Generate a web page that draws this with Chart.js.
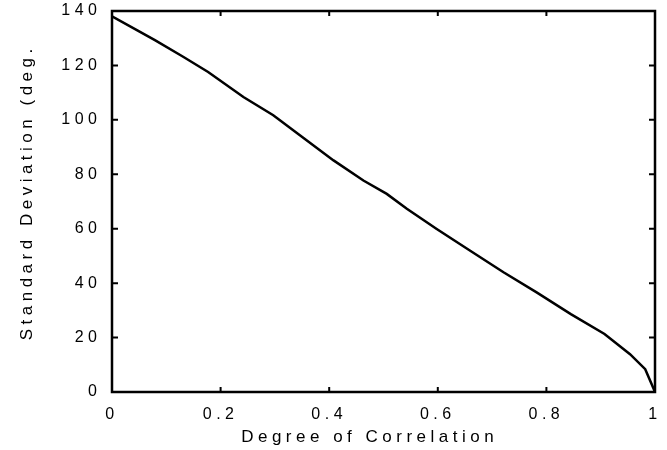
<!DOCTYPE html>
<html>
<head>
<meta charset="utf-8">
<script src="https://cdn.jsdelivr.net/npm/chart.js@4"></script>
<style>
    body { margin: 0; background: #fff; }
    #sd-chart { display: block; }
</style>
</head>
<body>
<canvas id="sd-chart" width="667" height="450"></canvas>
<script>
// values
const correlation = [0, 0.04, 0.079, 0.131, 0.177, 0.242, 0.297, 0.346, 0.408, 0.463, 0.506,
    0.543, 0.598, 0.659, 0.721, 0.782, 0.845, 0.907, 0.954, 0.982, 1.0];
const stdDev = [138, 133.6, 129.3, 123.2, 117.6, 108.4, 101.7, 94.3, 85.1, 77.7, 72.8,
    67.3, 59.9, 52.0, 44.0, 36.6, 28.6, 21.3, 13.9, 8.4, 0];
const xTickLabels = ['0', '0.2', '0.4', '0.6', '0.8', '1'];
const yTickLabels = ['0', '20', '40', '60', '80', '100', '120', '140'];
// spaces nudge the titles off-centre like in the original
const xTitle = 'Degree of Correlation   ';
const yTitle = '  Standard Deviation (deg.';

const fontFamily = "'Liberation Sans', Arial, sans-serif";

// frame + inward tick marks, drawn from the chart's own scales
const framePlugin = {
    id: 'frame',
    beforeDraw(chart) {
        chart.ctx.letterSpacing = '4.5px';
    },
    afterDraw(chart) {
        const ctx = chart.ctx;
        const a = chart.chartArea;
        const xs = chart.scales.x;
        const ys = chart.scales.y;
        ctx.save();
        ctx.letterSpacing = '0px';
        ctx.strokeStyle = '#000';
        ctx.lineWidth = 2.5;
        ctx.strokeRect(a.left, a.top, a.right - a.left, a.bottom - a.top);
        ctx.lineWidth = 2;
        ctx.beginPath();
        ys.ticks.forEach(t => {
            if (t.value <= ys.min || t.value >= ys.max) return;
            const py = ys.getPixelForValue(t.value);
            ctx.moveTo(a.left, py); ctx.lineTo(a.left + 6, py);
            ctx.moveTo(a.right, py); ctx.lineTo(a.right - 6, py);
        });
        xs.ticks.forEach(t => {
            if (t.value <= xs.min || t.value >= xs.max) return;
            const px = xs.getPixelForValue(t.value);
            ctx.moveTo(px, a.top); ctx.lineTo(px, a.top + 5);
            ctx.moveTo(px, a.bottom); ctx.lineTo(px, a.bottom - 5);
        });
        ctx.stroke();
        ctx.restore();
    }
};

const ctx = document.getElementById('sd-chart').getContext('2d');
new Chart(ctx, {
    type: 'scatter',
    data: {
        datasets: [{
            data: correlation.map((c, i) => ({ x: c, y: stdDev[i] })),
            showLine: true,
            borderColor: '#000',
            borderWidth: 2.5,
            pointRadius: 0,
            tension: 0,
            fill: false
        }]
    },
    options: {
        responsive: false,
        animation: false,
        events: [],
        layout: { padding: { top: 11, right: 12, left: 0, bottom: 0 } },
        plugins: {
            legend: { display: false },
            tooltip: { enabled: false }
        },
        scales: {
            x: {
                type: 'linear',
                min: 0,
                max: 1,
                afterFit: s => { s.height = 58; s.paddingLeft = 0; s.paddingRight = 0; },
                grid: { display: false, drawTicks: false },
                border: { display: false },
                ticks: {
                    stepSize: 0.2,
                    padding: 13,
                    maxRotation: 0,
                    color: '#000',
                    font: { family: fontFamily, size: 16 },
                    callback: (v, i) => xTickLabels[i]
                },
                title: {
                    display: true,
                    text: xTitle,
                    color: '#000',
                    font: { family: fontFamily, size: 17 },
                    padding: { top: 0, bottom: 2 }
                }
            },
            y: {
                min: 0,
                max: 140,
                afterFit: s => { s.width = 112; s.paddingTop = 0; s.paddingBottom = 0; },
                grid: { display: false, drawTicks: false },
                border: { display: false },
                ticks: {
                    stepSize: 20,
                    padding: 10.5,
                    color: '#000',
                    font: { family: fontFamily, size: 16 },
                    callback: (v, i) => yTickLabels[i]
                },
                title: {
                    display: true,
                    text: yTitle,
                    color: '#000',
                    font: { family: fontFamily, size: 17 },
                    padding: { top: 17, bottom: 0 }
                }
            }
        }
    },
    plugins: [framePlugin]
});
</script>
</body>
</html>
